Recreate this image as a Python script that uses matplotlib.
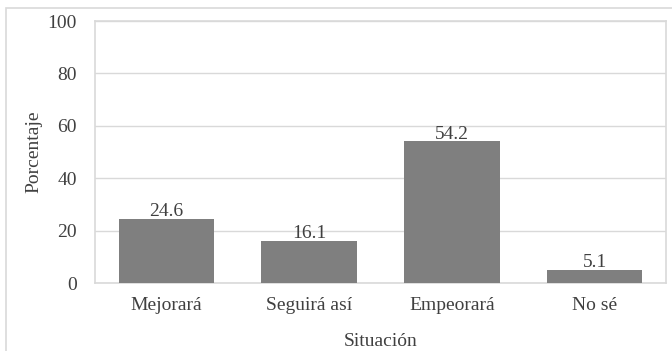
import matplotlib
matplotlib.use("Agg")
import matplotlib.pyplot as plt
from matplotlib.patches import Rectangle

categories = ["Mejorará", "Seguirá así", "Empeorará", "No sé"]
values = [24.6, 16.1, 54.2, 5.1]
yticks = [0, 20, 40, 60, 80, 100]

plt.rcParams['font.family'] = ['Liberation Serif', 'DejaVu Serif']
FS = 14

fig = plt.figure(figsize=(6.72, 3.51), dpi=100)
fig.patches.append(Rectangle((6/672, -0.1), 2, 1 - 8/351 + 0.1, transform=fig.transFigure,
                             fill=False, edgecolor='#d9d9d9', linewidth=1.2))
ax = fig.add_axes([95/672, 1 - 283/351, (666 - 95)/672, (283 - 21)/351])

x = range(len(categories))
ax.bar(x, values, width=0.67, color='#7f7f7f', zorder=3)
for i, v in enumerate(values):
    ax.text(i, v - 0.6, f"{v:.1f}", ha='center', va='bottom', fontsize=FS, color='#404040')

ax.set_xlim(-0.5, len(categories) - 0.5)
ax.set_ylim(0, 100)
ax.set_yticks(yticks)
ax.set_xticks(list(x))
ax.set_xticklabels(categories)
ax.tick_params(axis='both', length=0, labelsize=FS, colors='#404040')
ax.tick_params(axis='y', pad=13)
ax.tick_params(axis='x', pad=10)
ax.grid(axis='y', color='#d9d9d9', linewidth=1, zorder=0)
for s in ax.spines.values():
    s.set_color('#d9d9d9')
    s.set_linewidth(1.2)
ax.set_ylabel("Porcentaje", fontsize=FS, color='#404040', labelpad=4)
ax.set_xlabel("Situación", fontsize=FS, color='#404040', labelpad=14)

fig.savefig("out.png", dpi=100)
